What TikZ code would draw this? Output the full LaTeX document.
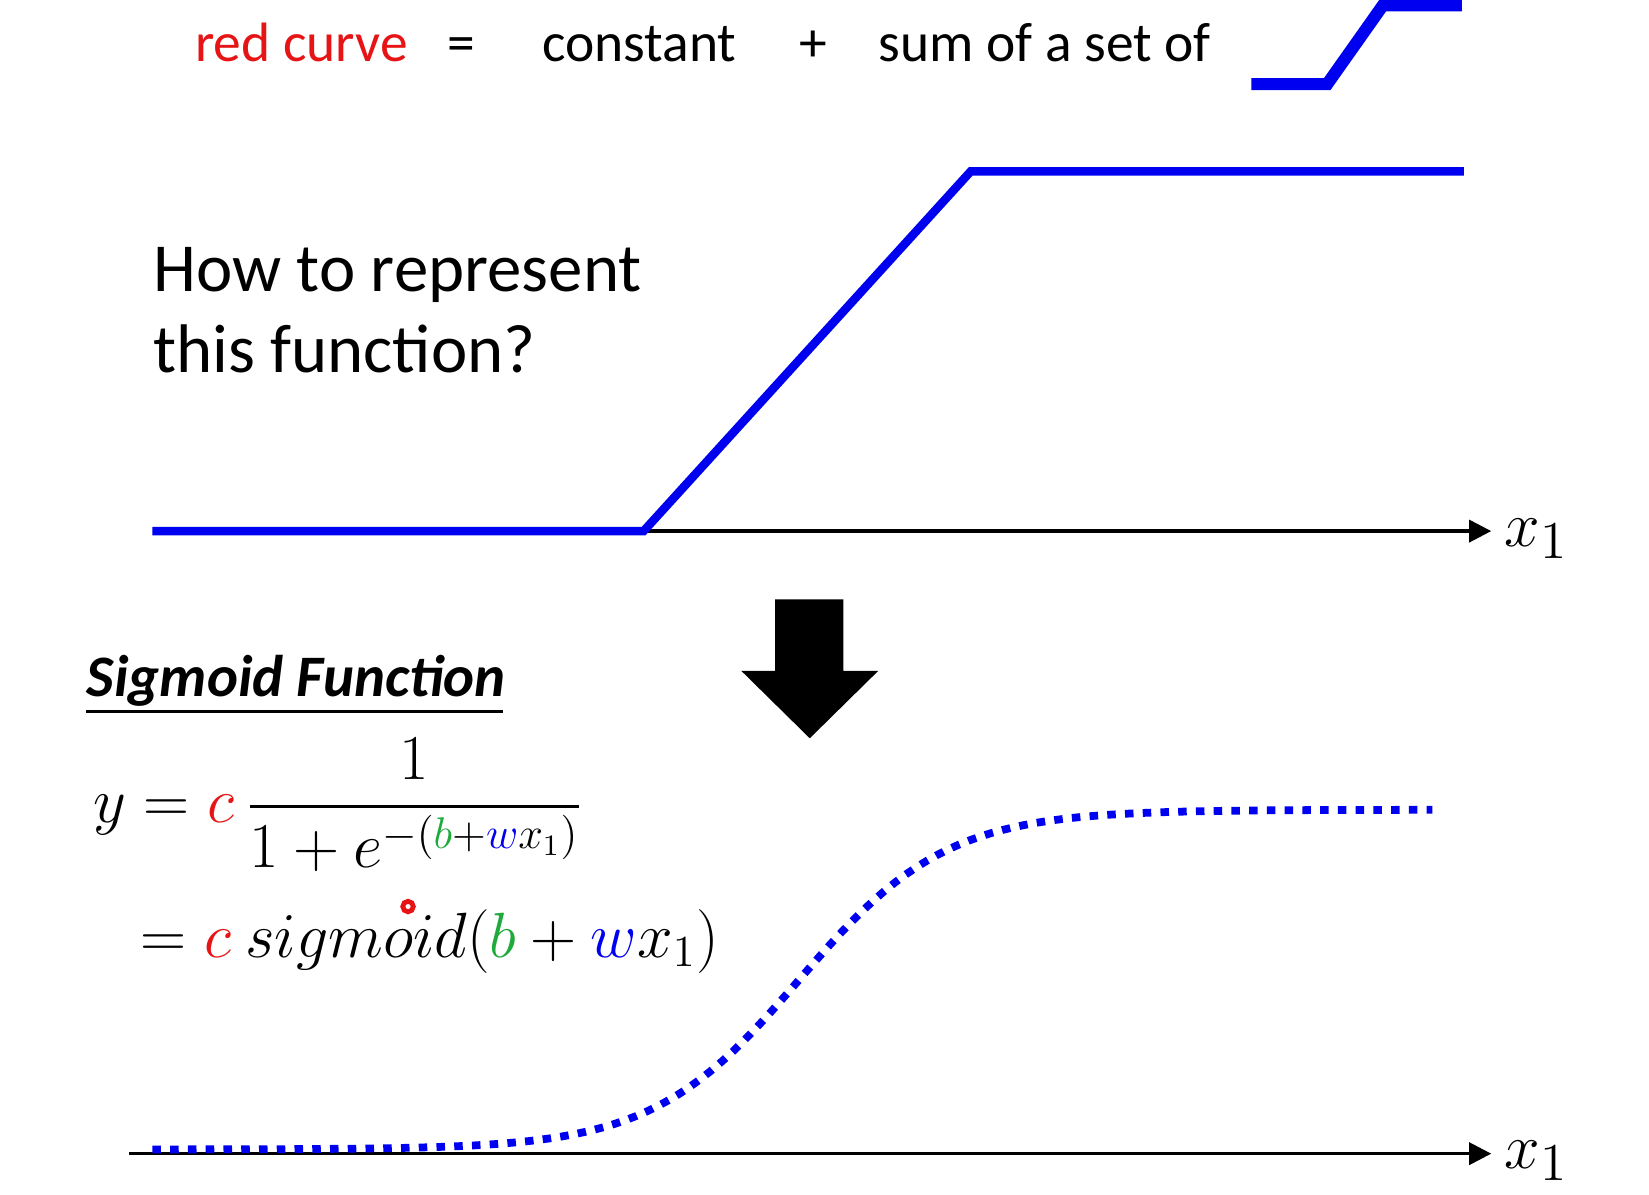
\documentclass[tikz,border=0pt]{standalone}
\usepackage{amsmath}
\usepackage{fontspec}
\setmainfont{Carlito}
\usetikzlibrary{arrows.meta}
\definecolor{cblue}{RGB}{0,0,240}
\definecolor{cred}{RGB}{230,20,20}
\definecolor{cgreen}{RGB}{30,170,60}
\tikzset{
  bl/.style={cblue,line width=2.3pt},
  ax/.style={line width=0.9pt,-{Triangle[length=6pt,width=6pt]}},
  tx/.style={inner sep=0,anchor=base west},
  top/.style={tx,font=\fontsize{15pt}{17pt}\selectfont},
}
\begin{document}
\begin{tikzpicture}[x=0.01cm,y=-0.01cm]
\useasboundingbox (0,0) rectangle (1568,1136);
% top line
\node[top,cred] (rc) at (185,58) {red curve};
\node[top] (eq) at (425,58) {=};
\node[top] (co) at (515,58) {constant};
\node[top] (pl) at (760,58) {+};
\node[top] (su) at (835,58) {sum of a set of};
\draw[cblue,line width=3.3pt] (1190,80) -- (1262,80) -- (1315,5) -- (1390,5);
% upper plot
\coordinate (a0) at (612,505);
\coordinate (a1) at (1418,505);
\draw[ax] (a0) -- (a1);
\node[anchor=west,inner sep=0,font=\fontsize{19pt}{22pt}\selectfont] (x1a) at (1430,512) {$x_1$};
\draw[bl] (145,505) -- (a0) -- (923,163) -- (1392,163);
\node[tx,font=\fontsize{18.6pt}{23pt}\selectfont] (q) at (145,277) {How to represent};
\node[tx,font=\fontsize{18.6pt}{23pt}\selectfont] (q2) at (145,354) {this function?};
% big arrow
\fill[black] (737,570) -- (802,570) -- (802,638) -- (835,638) -- (770,702) -- (705,638) -- (737,638) -- cycle;
% sigmoid title
\node[tx,font=\fontsize{15.9pt}{19pt}\selectfont\bfseries\itshape] (st) at (82,662) {Sigmoid Function};
\draw[line width=0.8pt] (82,677) -- (478,677);
% formulas
\node[anchor=west,inner sep=0,font=\fontsize{17pt}{20pt}\selectfont] (f1) at (88,765)
 {$y=\textcolor{cred}{c}\,\dfrac{1}{1+e^{-(\textcolor{cgreen}{b}+\textcolor{cblue}{w}x_1)}}$};
\node[anchor=west,inner sep=0,font=\fontsize{17pt}{20pt}\selectfont] (f2) at (133,895)
 {$=\textcolor{cred}{c}\ sigmoid(\textcolor{cgreen}{b}+\textcolor{cblue}{w}x_1)$};
\draw[cred,line width=1.3pt] (388,862) circle (5);
% lower plot
\coordinate (b0) at (123,1097);
\coordinate (b1) at (1418,1097);
\draw[ax] (b0) -- (b1);
\node[anchor=west,inner sep=0,font=\fontsize{19pt}{22pt}\selectfont] (x1b) at (1430,1104) {$x_1$};
\draw[cblue,line width=2.1pt,dash pattern=on 2.3pt off 2.5pt,domain=145:1362,samples=120,variable=\t]
  plot (\t,{1093-323/(1+exp(-(\t-760)/70))});
\end{tikzpicture}
\end{document}
